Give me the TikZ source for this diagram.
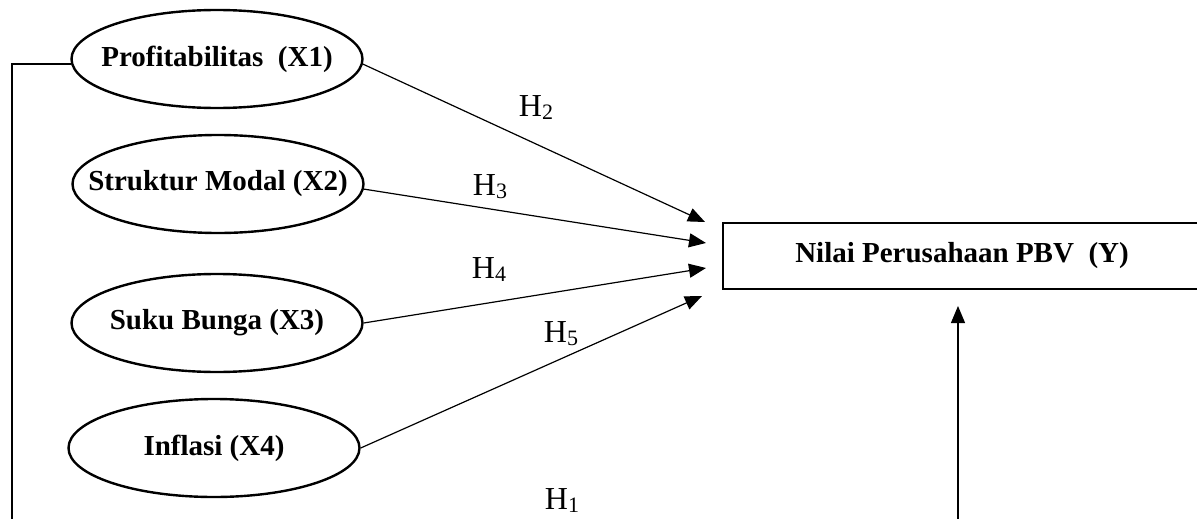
\documentclass[tikz,border=0pt]{standalone}
\usepackage{fontspec}
\setmainfont{Liberation Serif}
\usetikzlibrary{shapes.geometric,arrows.meta}

\newcommand{\hlab}[1]{H\raisebox{-3pt}{\fontsize{22}{22}\selectfont #1}}

\tikzset{
  varbox/.style={ellipse, draw, line width=2.4pt, minimum width=291pt, minimum height=98pt,
    inner xsep=-30pt, inner ysep=0pt, font=\fontsize{29}{31}\selectfont\bfseries},
  ybox/.style={rectangle, draw, line width=2.4pt, minimum width=478pt, minimum height=66pt,
    font=\fontsize{29}{31}\selectfont\bfseries},
  hlabel/.style={font=\fontsize{32}{34}\selectfont},
  link/.style={line width=1.2pt},
  arr/.style={line width=1.2pt, -{Triangle[length=17pt,width=14pt]}}
}

\begin{document}
\begin{tikzpicture} [x=1pt,y=-1pt]

\useasboundingbox (0,0) rectangle (1197,519);
%\draw [step=100pt, dotted] (0,0) grid (1197,519);

\node [varbox] (prof) at (217,59) {Profitabilitas\ \ (X1)};
\node [varbox] (struk) at (218,184) {Struktur Modal (X2)};
\node [varbox] (suku) at (217,323) {Suku Bunga (X3)};
\node [varbox] (infl) at (214,448) {Inflasi (X4)};
\node [ybox] (nilai) at (962,256) {Nilai Perusahaan PBV\ \ (Y)};

\coordinate (t2) at (705,222);
\coordinate (t3) at (706,243);
\coordinate (t4) at (706,268);
\coordinate (t5) at (702,296);
\coordinate (corner) at (12,519);
\coordinate (foot) at (958,519);
\coordinate (top) at (958,306);

\draw [arr] (prof.-2) -- (t2);
\draw [arr] (struk.-2) -- (t3);
\draw [arr] (suku.east) -- (t4);
\draw [arr] (infl.east) -- (t5);
\draw [link] (prof.182) -| (corner);
\draw [arr] (foot) -- (top);

\node [hlabel] (h2) at (536,108) {\hlab{2}};
\node [hlabel] (h3) at (490,187) {\hlab{3}};
\node [hlabel] (h4) at (489,270) {\hlab{4}};
\node [hlabel] (h5) at (561,334) {\hlab{5}};
\node [hlabel] (h1) at (562,501) {\hlab{1}};

\end{tikzpicture}
\end{document}
